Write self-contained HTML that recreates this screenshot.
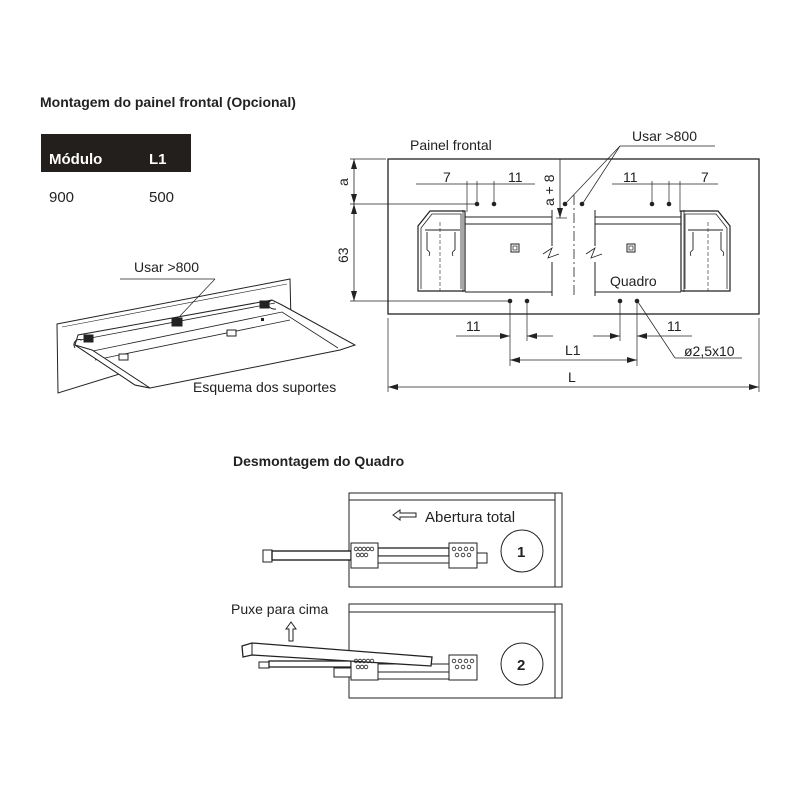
<!DOCTYPE html>
<html><head><meta charset="utf-8"><style>
html,body{margin:0;padding:0;background:#fff;}
svg{display:block;}
text{font-family:"Liberation Sans",sans-serif;fill:#222;}
</style></head><body>
<svg width="800" height="800" viewBox="0 0 800 800" xmlns="http://www.w3.org/2000/svg">
<defs>
<marker id="ar" viewBox="0 0 10 6" refX="10" refY="3" markerWidth="10" markerHeight="6" orient="auto-start-reverse" markerUnits="userSpaceOnUse"><path d="M0,0 L10,3 L0,6 z" fill="#222"/></marker>
</defs>
<text x="40" y="107" font-size="14" font-weight="bold">Montagem do painel frontal (Opcional)</text>
<rect x="41" y="134" width="150" height="38" fill="#231f1c"/>
<text x="49" y="164" font-size="15" font-weight="bold" style="fill:#fff">Módulo</text>
<text x="149" y="164" font-size="15" font-weight="bold" style="fill:#fff">L1</text>
<text x="49" y="202" font-size="15">900</text>
<text x="149" y="202" font-size="15">500</text>

<g stroke="#222" fill="none" stroke-width="1">
<rect x="388" y="159" width="371" height="155" stroke-width="1.3"/>
<line x1="350" y1="159" x2="386" y2="159" stroke-width="0.7"/>
<line x1="354" y1="159" x2="354" y2="204" marker-start="url(#ar)" marker-end="url(#ar)" stroke-width="0.8"/>
<line x1="354" y1="204" x2="354" y2="301" marker-start="url(#ar)" marker-end="url(#ar)" stroke-width="0.8"/>
<line x1="350" y1="204" x2="477" y2="204" stroke-width="0.8"/>
<line x1="350" y1="301" x2="510" y2="301" stroke-width="0.8"/>
<line x1="416" y1="184" x2="535" y2="184" stroke-width="0.7"/>
<line x1="467" y1="181" x2="467" y2="212" stroke-width="0.7"/>
<line x1="477" y1="181" x2="477" y2="204" stroke-width="0.7"/>
<line x1="494" y1="181" x2="494" y2="204" stroke-width="0.7"/>
<line x1="612" y1="184" x2="718" y2="184" stroke-width="0.7"/>
<line x1="652" y1="181" x2="652" y2="204" stroke-width="0.7"/>
<line x1="669" y1="181" x2="669" y2="204" stroke-width="0.7"/>
<line x1="680" y1="181" x2="680" y2="212" stroke-width="0.7"/>
<line x1="560" y1="159" x2="560" y2="218" marker-end="url(#ar)" stroke-width="0.8"/>
<line x1="556" y1="218" x2="567" y2="218" stroke-width="0.7"/>
<line x1="574" y1="195" x2="574" y2="296" stroke-dasharray="10,3,2,3" stroke-width="0.8"/>
<line x1="620" y1="146" x2="715" y2="146" stroke-width="0.7"/>
<line x1="620" y1="146" x2="566" y2="203" stroke-width="0.7"/>
<line x1="620" y1="146" x2="583" y2="203" stroke-width="0.7"/>
<path d="M418,291 V226 L430,211 H465 V291 Z" stroke-width="1.2"/>
<path d="M421,289 V228 L432,214 H461 V289" stroke-width="0.8"/>
<path d="M425,230 H460 M427,232 V250 M455,232 V250" stroke-width="0.9"/>
<path d="M427,250 q4,2 2,6 M455,250 q-4,2 -2,6" stroke-width="0.8"/>
<line x1="440" y1="222" x2="440" y2="291" stroke-dasharray="4,2" stroke-width="0.6"/>
<line x1="463" y1="210" x2="463" y2="292" stroke-width="0.8"/>
<path d="M465,217 H552 M465,224 H552 M465,292 H552 M552,210 V246 M552,262 V296" stroke-width="1"/>
<path d="M543,254 l9,-6 l-4,10 l11,-4" stroke-width="0.8"/>
<rect x="511" y="244" width="8" height="8" stroke-width="1"/>
<rect x="513" y="246" width="4" height="4" stroke-width="0.7"/>
<path d="M595,217 H681 M595,224 H681 M595,292 H681 M595,210 V246 M595,262 V296" stroke-width="1"/>
<path d="M586,254 l9,-6 l-4,10 l11,-4" stroke-width="0.8"/>
<rect x="627" y="244" width="8" height="8" stroke-width="1"/>
<rect x="629" y="246" width="4" height="4" stroke-width="0.7"/>
<path d="M730,291 V226 L718,211 H681 V291 Z" stroke-width="1.2"/>
<path d="M727,289 V228 L716,214 H685 V289" stroke-width="0.8"/>
<path d="M688,230 H723 M721,232 V250 M693,232 V250" stroke-width="0.9"/>
<path d="M693,250 q-4,2 -2,6 M721,250 q4,2 2,6" stroke-width="0.8"/>
<line x1="708" y1="222" x2="708" y2="291" stroke-dasharray="4,2" stroke-width="0.6"/>
<line x1="684" y1="210" x2="684" y2="292" stroke-width="0.8"/>
<line x1="510" y1="301" x2="510" y2="366" stroke-width="0.7"/>
<line x1="527" y1="301" x2="527" y2="341" stroke-width="0.7"/>
<line x1="620" y1="301" x2="620" y2="341" stroke-width="0.7"/>
<line x1="637" y1="301" x2="637" y2="366" stroke-width="0.7"/>
<line x1="456" y1="336" x2="510" y2="336" marker-end="url(#ar)" stroke-width="0.7"/>
<line x1="553" y1="336" x2="527" y2="336" marker-end="url(#ar)" stroke-width="0.7"/>
<line x1="593" y1="336" x2="620" y2="336" marker-end="url(#ar)" stroke-width="0.7"/>
<line x1="692" y1="336" x2="637" y2="336" marker-end="url(#ar)" stroke-width="0.7"/>
<line x1="510" y1="360" x2="637" y2="360" marker-start="url(#ar)" marker-end="url(#ar)" stroke-width="0.7"/>
<line x1="388" y1="318" x2="388" y2="392" stroke-width="0.7"/>
<line x1="759" y1="318" x2="759" y2="392" stroke-width="0.7"/>
<line x1="388" y1="387" x2="759" y2="387" marker-start="url(#ar)" marker-end="url(#ar)" stroke-width="0.7"/>
<line x1="638" y1="302" x2="675" y2="358" stroke-width="0.7"/>
<line x1="675" y1="358" x2="742" y2="358" stroke-width="0.7"/>
</g>
<g fill="#222">
<circle cx="477" cy="204" r="2.3"/><circle cx="494" cy="204" r="2.3"/>
<circle cx="565" cy="204" r="2.3"/><circle cx="582" cy="204" r="2.3"/>
<circle cx="652" cy="204" r="2.3"/><circle cx="669" cy="204" r="2.3"/>
<circle cx="510" cy="301" r="2.3"/><circle cx="527" cy="301" r="2.3"/>
<circle cx="620" cy="301" r="2.3"/><circle cx="637" cy="301" r="2.3"/>
</g>
<text x="410" y="150" font-size="14">Painel frontal</text>
<text x="632" y="141" font-size="14">Usar &gt;800</text>
<text x="443" y="182" font-size="14">7</text>
<text x="508" y="182" font-size="14">11</text>
<text x="623" y="182" font-size="14">11</text>
<text x="701" y="182" font-size="14">7</text>
<text transform="translate(348,186) rotate(-90)" font-size="14">a</text>
<text transform="translate(348,263) rotate(-90)" font-size="14">63</text>
<text transform="translate(554,206) rotate(-90)" font-size="14">a + 8</text>
<text x="610" y="286" font-size="14">Quadro</text>
<text x="466" y="331" font-size="14">11</text>
<text x="667" y="331" font-size="14">11</text>
<text x="565" y="355" font-size="14">L1</text>
<text x="568" y="382" font-size="14">L</text>
<text x="684" y="356" font-size="14">ø2,5x10</text>

<g stroke="#222" fill="#fff" stroke-width="1">
<path d="M57,324 L290,279 L291,321 L58,393 Z"/>
<path d="M62,327 L287,284" fill="none" stroke-width="0.6"/>
<path d="M75,345 L78,335 L272,300 L282,305 L355,345 L340,350 L150,388 L135,385 Z"/>
<path d="M80,340 L275,303 M88,352 L282,312 L338,348 M95,360 L290,320" fill="none" stroke-width="0.8"/>
<path d="M75,345 L135,385 L150,388 L92,350 Z" fill="#fff"/>
<path d="M82,340 C76,338 72,343 75,348" fill="none"/>
<path d="M272,300 C266,302 268,310 276,309" fill="none"/>
<rect x="84" y="335" width="9" height="7" fill="#222"/>
<rect x="172" y="318" width="10" height="8" fill="#222"/>
<rect x="260" y="301" width="9" height="7" fill="#222"/>
<rect x="119" y="354" width="9" height="6" fill="#fff"/>
<rect x="227" y="330" width="9" height="6" fill="#fff"/>
<line x1="120" y1="279" x2="215" y2="279" stroke-width="0.7"/>
<line x1="215" y1="279" x2="180" y2="316" stroke-width="0.7"/>
</g>
<rect x="261" y="318" width="3" height="3" fill="#222"/>
<text x="134" y="272" font-size="14">Usar  &gt;800</text>
<text x="193" y="392" font-size="14">Esquema dos suportes</text>

<text x="233" y="466" font-size="14" font-weight="bold">Desmontagem do Quadro</text>
<g stroke="#222" fill="none" stroke-width="1">
<rect x="349" y="493" width="213" height="94"/>
<line x1="349" y1="500" x2="555" y2="500"/>
<line x1="555" y1="493" x2="555" y2="587"/>
<circle cx="522" cy="551" r="21"/>
<path d="M393,515 l7,-5 v3 h16 v4 h-16 v3 z"/>
<rect x="263" y="550" width="9" height="12" fill="#fff"/>
<rect x="272" y="551" width="79" height="9" fill="#fff" stroke-width="1.4"/>
<rect x="378" y="548" width="71" height="8" fill="#fff" stroke-width="1.3"/>
<rect x="378" y="556" width="71" height="7" fill="#fff"/>
<rect x="351" y="543" width="27" height="25" fill="#fff"/>
<rect x="449" y="543" width="28" height="25" fill="#fff"/>
<rect x="477" y="553" width="10" height="10" fill="#fff"/>
<rect x="349" y="604" width="213" height="94"/>
<line x1="349" y1="612" x2="555" y2="612"/>
<line x1="555" y1="604" x2="555" y2="698"/>
<circle cx="522" cy="664" r="21"/>
<path d="M291,622 l-5,7 h3 v12 h4 v-12 h3 z"/>
<rect x="259" y="662" width="10" height="6" fill="#fff"/>
<rect x="269" y="661" width="82" height="6" fill="#fff" stroke-width="1.3"/>
<rect x="334" y="668" width="17" height="9" fill="#fff"/>
<rect x="378" y="664" width="71" height="8" fill="#fff"/>
<rect x="378" y="672" width="71" height="7" fill="#fff"/>
<rect x="351" y="655" width="27" height="25" fill="#fff"/>
<rect x="449" y="655" width="28" height="25" fill="#fff"/>
<path d="M242,646 L252,643 L432,657 L431,666 L252,655 L243,657 Z" fill="#fff" stroke-width="1.3"/>
<line x1="252" y1="643" x2="252" y2="655"/>
</g>
<g fill="none" stroke="#222" stroke-width="0.8">
<circle cx="356" cy="549" r="1.8"/><circle cx="360" cy="549" r="1.8"/><circle cx="364" cy="549" r="1.8"/><circle cx="368" cy="549" r="1.8"/><circle cx="372" cy="549" r="1.8"/>
<circle cx="358" cy="555" r="1.8"/><circle cx="362" cy="555" r="1.8"/><circle cx="366" cy="555" r="1.8"/>
<circle cx="454" cy="549" r="1.8"/><circle cx="460" cy="549" r="1.8"/><circle cx="466" cy="549" r="1.8"/><circle cx="472" cy="549" r="1.8"/>
<circle cx="457" cy="555" r="1.8"/><circle cx="463" cy="555" r="1.8"/><circle cx="469" cy="555" r="1.8"/>
<circle cx="356" cy="661" r="1.8"/><circle cx="360" cy="661" r="1.8"/><circle cx="364" cy="661" r="1.8"/><circle cx="368" cy="661" r="1.8"/><circle cx="372" cy="661" r="1.8"/>
<circle cx="358" cy="667" r="1.8"/><circle cx="362" cy="667" r="1.8"/><circle cx="366" cy="667" r="1.8"/>
<circle cx="454" cy="661" r="1.8"/><circle cx="460" cy="661" r="1.8"/><circle cx="466" cy="661" r="1.8"/><circle cx="472" cy="661" r="1.8"/>
<circle cx="457" cy="667" r="1.8"/><circle cx="463" cy="667" r="1.8"/><circle cx="469" cy="667" r="1.8"/>
</g>
<text x="425" y="522" font-size="15">Abertura total</text>
<text x="517" y="557" font-size="15" font-weight="bold">1</text>
<text x="517" y="670" font-size="15" font-weight="bold">2</text>
<text x="231" y="614" font-size="14">Puxe para cima</text>
</svg>
</body></html>
